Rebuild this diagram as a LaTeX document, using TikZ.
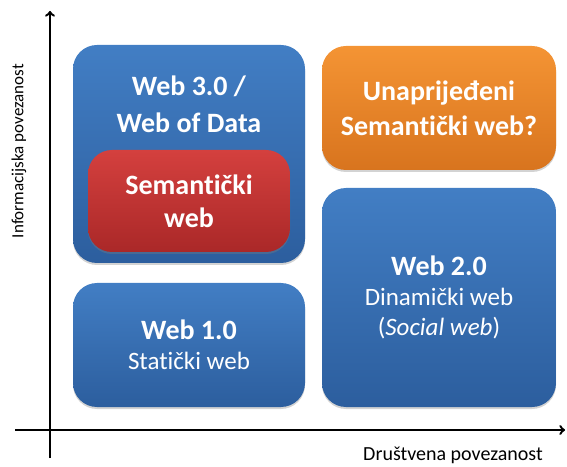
\documentclass[tikz,border=0pt]{standalone}
\usepackage{fontspec}
\setmainfont{Carlito}[Ligatures = NoCommon]
\usetikzlibrary{shadows}
\definecolor{boxblueT}{RGB}{66,126,196}
\definecolor{boxblueB}{RGB}{44,94,158}
\definecolor{boxredT}{RGB}{212,64,62}
\definecolor{boxredB}{RGB}{170,40,40}
\definecolor{boxorT}{RGB}{244,148,52}
\definecolor{boxorB}{RGB}{216,116,30}
\tikzset{
	webbox/.style = {rounded corners = 24pt, align = center, text = white,
		font = \fontsize{25}{30}\selectfont,
		drop shadow = {opacity = 0.35, shadow xshift = 0pt, shadow yshift = -2pt}},
	bluebox/.style = {webbox, top color = boxblueT, bottom color = boxblueB},
	bigbold/.style = {font = \fontsize{28}{35}\selectfont\bfseries},
	axislabel/.style = {font = \fontsize{17}{20}\selectfont}
}
\begin{document}
\begin{tikzpicture}[x = 1pt, y = 1pt]
			\useasboundingbox (0,0) rectangle (567,466);
			% axes
			\coordinate (yfoot) at (50,8);
			\coordinate (ytop) at (50,455);
			\coordinate (xfoot) at (15,36);
			\coordinate (xtop) at (565,36);
			\draw[line width = 2.4pt,->] (yfoot)--(ytop);
			\draw[line width = 2.4pt,->] (xfoot)--(xtop);
			\node[axislabel,rotate = 90] (infolbl) at (19,315) {Informacijska povezanost};
			\node[axislabel,font = \fontsize{20}{24}\selectfont] (druslbl) at (453,11) {Društvena povezanost};
			% boxes
			\node[bluebox,minimum width = 232pt,minimum height = 218pt] (web3) at (189,312) {};
			\node[text = white,align = center,font = \fontsize{28}{37}\selectfont\bfseries] (web3lbl) at (189,362) {Web 3.0 /\\Web of Data};
			\node[webbox,top color = boxredT,bottom color = boxredB,minimum width = 202pt,minimum height = 102pt,font = \fontsize{28}{33}\selectfont\bfseries] (sem) at (189,265) {Semantički\\web};
			\node[webbox,bigbold,top color = boxorT,bottom color = boxorB,minimum width = 234pt,minimum height = 124pt] (unap) at (439,358) {Unaprijeđeni\\Semantički web?};
			\node[bluebox,minimum width = 234pt,minimum height = 219pt] (web2) at (439,168.5) {{\fontsize{28}{30}\selectfont\bfseries Web 2.0}\\Dinamički web\\(\textit{Social web})};
			\node[bluebox,minimum width = 232pt,minimum height = 124pt] (web1) at (189,121) {{\fontsize{28}{30}\selectfont\bfseries Web 1.0}\\Statički web};
		\end{tikzpicture}
\end{document}
